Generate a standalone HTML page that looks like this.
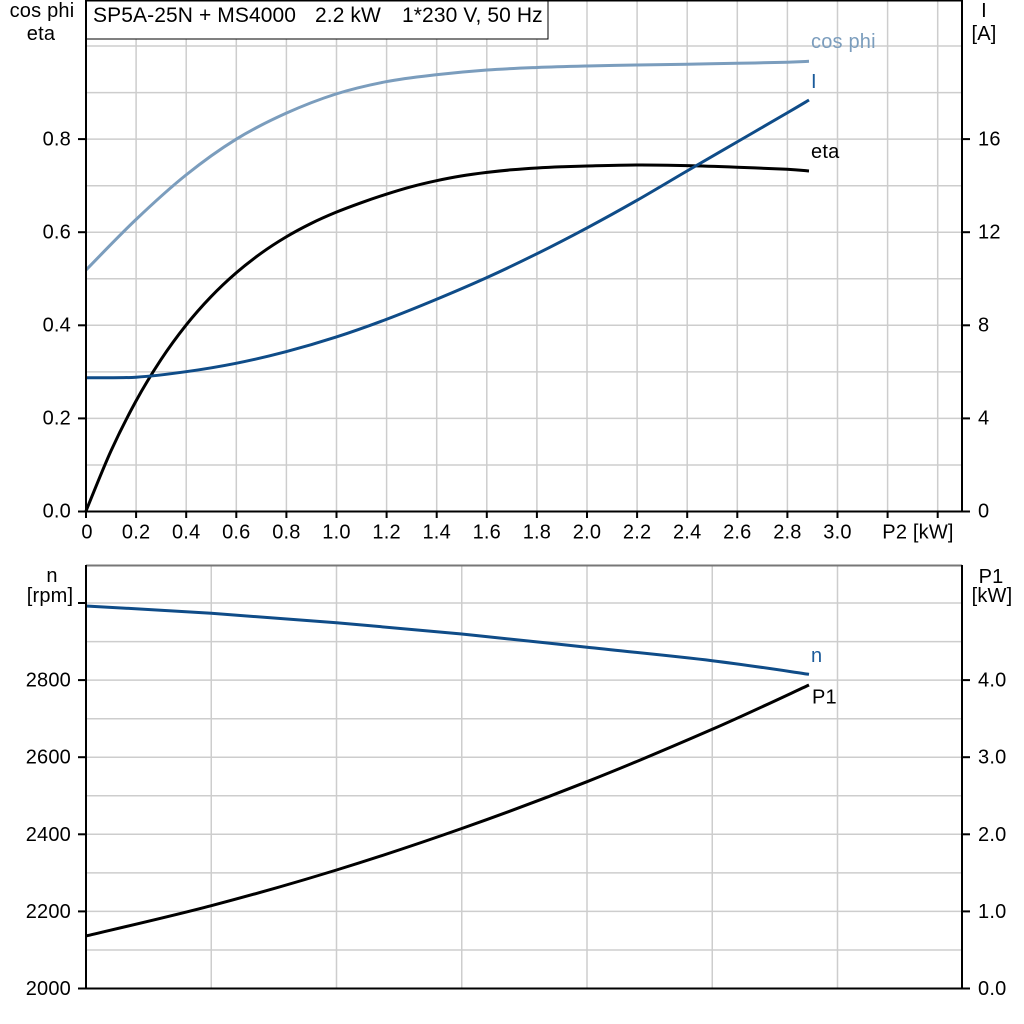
<!DOCTYPE html>
<html>
<head>
<meta charset="utf-8">
<style>
  html,body{margin:0;padding:0;background:#fff;}
  svg{display:block;}
  text{font-family:"Liberation Sans", Arial, sans-serif;font-size:20px;letter-spacing:0.2px;fill:#000;}
</style>
</head>
<body>
<svg id="chart" width="1024" height="1024" viewBox="0 0 1024 1024" xmlns="http://www.w3.org/2000/svg" font-family="Liberation Sans, Arial, sans-serif" font-size="20">
  <rect x="0" y="0" width="1024" height="1024" fill="#fff"/>

  <!-- ========== TOP CHART ========== -->
  <g stroke="#cdcdcd" stroke-width="1.5" fill="none">
    <line x1="136.1" y1="0" x2="136.1" y2="511"/>
    <line x1="186.2" y1="0" x2="186.2" y2="511"/>
    <line x1="236.3" y1="0" x2="236.3" y2="511"/>
    <line x1="286.4" y1="0" x2="286.4" y2="511"/>
    <line x1="336.5" y1="0" x2="336.5" y2="511"/>
    <line x1="386.6" y1="0" x2="386.6" y2="511"/>
    <line x1="436.7" y1="0" x2="436.7" y2="511"/>
    <line x1="486.8" y1="0" x2="486.8" y2="511"/>
    <line x1="536.9" y1="0" x2="536.9" y2="511"/>
    <line x1="587" y1="0" x2="587" y2="511"/>
    <line x1="637.1" y1="0" x2="637.1" y2="511"/>
    <line x1="687.2" y1="0" x2="687.2" y2="511"/>
    <line x1="737.3" y1="0" x2="737.3" y2="511"/>
    <line x1="787.4" y1="0" x2="787.4" y2="511"/>
    <line x1="837.5" y1="0" x2="837.5" y2="511"/>
    <line x1="887.6" y1="0" x2="887.6" y2="511"/>
    <line x1="937.7" y1="0" x2="937.7" y2="511"/>
    <line x1="86" y1="465" x2="962" y2="465"/>
    <line x1="86" y1="418.4" x2="962" y2="418.4"/>
    <line x1="86" y1="371.9" x2="962" y2="371.9"/>
    <line x1="86" y1="325.3" x2="962" y2="325.3"/>
    <line x1="86" y1="278.8" x2="962" y2="278.8"/>
    <line x1="86" y1="232.2" x2="962" y2="232.2"/>
    <line x1="86" y1="185.7" x2="962" y2="185.7"/>
    <line x1="86" y1="139.1" x2="962" y2="139.1"/>
    <line x1="86" y1="92.6" x2="962" y2="92.6"/>
    <line x1="86" y1="46" x2="962" y2="46"/>
  </g>

  <g fill="none" stroke-width="3" stroke-linejoin="round" stroke-linecap="butt">
    <polyline class="smooth" stroke="#7b9dbd" points="86,270 136,219.5 186,175 236,139.3 286,113.3 336,94 386,81.7 436,74.8 487,70 537,67.5 587,66 637,65 687,64.2 737,63.3 787,62.2 809,61.3"/>
    <polyline class="smooth" stroke="#000" points="86,511 111,450.9 136,401 161,359.6 186,325.2 211,296.7 236,273 261,253.3 286,237 311,223.5 336,212.3 361,202.8 386,194.3 411,186.8 436,180.8 461,176 487,172.4 512,169.8 537,168 562,166.8 587,166 637,165 687,165.6 737,167.2 787,169.3 809,171"/>
    <polyline class="smooth" stroke="#0f4c88" points="86,377.7 136,377.2 186,371.7 236,363.3 286,351.7 336,337.1 386,319.5 436,299.5 487,277.5 537,253.7 587,227.9 637,200.3 687,171 737,142 787,113 809,100"/>
  </g>

  <rect x="86.5" y="0.5" width="461.5" height="38.5" fill="#fff" stroke="#000" stroke-width="1"/>
  <text x="93" y="22" style="font-size:21px;letter-spacing:0.1px">SP5A-25N + MS4000</text>
  <text x="315" y="22" style="font-size:21px;letter-spacing:0.1px">2.2 kW</text>
  <text x="402" y="22" style="font-size:21px;letter-spacing:0.1px">1*230 V, 50 Hz</text>

  <g stroke="#000" fill="none">
    <line x1="86" y1="0.8" x2="962" y2="0.8" stroke-width="1.5"/>
    <line x1="86" y1="0" x2="86" y2="512" stroke-width="2"/>
    <line x1="962" y1="0" x2="962" y2="512" stroke-width="2"/>
    <line x1="78" y1="511.5" x2="970" y2="511.5" stroke-width="2"/>
    <line x1="78" y1="418.4" x2="86" y2="418.4" stroke-width="2"/>
    <line x1="78" y1="325.3" x2="86" y2="325.3" stroke-width="2"/>
    <line x1="78" y1="232.2" x2="86" y2="232.2" stroke-width="2"/>
    <line x1="78" y1="139.1" x2="86" y2="139.1" stroke-width="2"/>
    <line x1="962" y1="418.4" x2="970" y2="418.4" stroke-width="2"/>
    <line x1="962" y1="325.3" x2="970" y2="325.3" stroke-width="2"/>
    <line x1="962" y1="232.2" x2="970" y2="232.2" stroke-width="2"/>
    <line x1="962" y1="139.1" x2="970" y2="139.1" stroke-width="2"/>
    <line x1="86" y1="511" x2="86" y2="518" stroke-width="2"/>
    <line x1="136.1" y1="511" x2="136.1" y2="518" stroke-width="2"/>
    <line x1="186.2" y1="511" x2="186.2" y2="518" stroke-width="2"/>
    <line x1="236.3" y1="511" x2="236.3" y2="518" stroke-width="2"/>
    <line x1="286.4" y1="511" x2="286.4" y2="518" stroke-width="2"/>
    <line x1="336.5" y1="511" x2="336.5" y2="518" stroke-width="2"/>
    <line x1="386.6" y1="511" x2="386.6" y2="518" stroke-width="2"/>
    <line x1="436.7" y1="511" x2="436.7" y2="518" stroke-width="2"/>
    <line x1="486.8" y1="511" x2="486.8" y2="518" stroke-width="2"/>
    <line x1="536.9" y1="511" x2="536.9" y2="518" stroke-width="2"/>
    <line x1="587" y1="511" x2="587" y2="518" stroke-width="2"/>
    <line x1="637.1" y1="511" x2="637.1" y2="518" stroke-width="2"/>
    <line x1="687.2" y1="511" x2="687.2" y2="518" stroke-width="2"/>
    <line x1="737.3" y1="511" x2="737.3" y2="518" stroke-width="2"/>
    <line x1="787.4" y1="511" x2="787.4" y2="518" stroke-width="2"/>
    <line x1="837.5" y1="511" x2="837.5" y2="518" stroke-width="2"/>
    <line x1="887.6" y1="511" x2="887.6" y2="518" stroke-width="2"/>
    <line x1="937.7" y1="511" x2="937.7" y2="518" stroke-width="2"/>
  </g>

  <text x="42" y="17" text-anchor="middle">cos phi</text>
  <text x="41" y="40" text-anchor="middle">eta</text>
  <text x="984" y="17" text-anchor="middle">I</text>
  <text x="984" y="40" text-anchor="middle">[A]</text>

  <g text-anchor="end">
    <text x="71" y="517.5">0.0</text>
    <text x="71" y="424.5">0.2</text>
    <text x="71" y="331.5">0.4</text>
    <text x="71" y="238.5">0.6</text>
    <text x="71" y="145.5">0.8</text>
  </g>
  <g>
    <text x="978" y="517.5">0</text>
    <text x="978" y="424.5">4</text>
    <text x="978" y="331.5">8</text>
    <text x="978" y="238.5">12</text>
    <text x="978" y="145.5">16</text>
  </g>
  <g text-anchor="middle">
    <text x="87" y="538.5">0</text>
    <text x="136.1" y="538.5">0.2</text>
    <text x="186.2" y="538.5">0.4</text>
    <text x="236.3" y="538.5">0.6</text>
    <text x="286.4" y="538.5">0.8</text>
    <text x="336.5" y="538.5">1.0</text>
    <text x="386.6" y="538.5">1.2</text>
    <text x="436.7" y="538.5">1.4</text>
    <text x="486.8" y="538.5">1.6</text>
    <text x="536.9" y="538.5">1.8</text>
    <text x="587" y="538.5">2.0</text>
    <text x="637.1" y="538.5">2.2</text>
    <text x="687.2" y="538.5">2.4</text>
    <text x="737.3" y="538.5">2.6</text>
    <text x="787.4" y="538.5">2.8</text>
    <text x="837.5" y="538.5">3.0</text>
    <text x="918" y="538.5">P2 [kW]</text>
  </g>

  <text x="811" y="48" style="fill:#7b9dbd">cos phi</text>
  <text x="811" y="88" style="fill:#1a5a9a">I</text>
  <text x="811" y="158">eta</text>

  <!-- ========== BOTTOM CHART ========== -->
  <g stroke="#cdcdcd" stroke-width="1.5" fill="none">
    <line x1="211.25" y1="565" x2="211.25" y2="988"/>
    <line x1="336.5" y1="565" x2="336.5" y2="988"/>
    <line x1="461.75" y1="565" x2="461.75" y2="988"/>
    <line x1="587" y1="565" x2="587" y2="988"/>
    <line x1="712.25" y1="565" x2="712.25" y2="988"/>
    <line x1="837.5" y1="565" x2="837.5" y2="988"/>
    <line x1="86" y1="950" x2="962" y2="950"/>
    <line x1="86" y1="911.4" x2="962" y2="911.4"/>
    <line x1="86" y1="872.9" x2="962" y2="872.9"/>
    <line x1="86" y1="834.3" x2="962" y2="834.3"/>
    <line x1="86" y1="795.8" x2="962" y2="795.8"/>
    <line x1="86" y1="757.2" x2="962" y2="757.2"/>
    <line x1="86" y1="718.7" x2="962" y2="718.7"/>
    <line x1="86" y1="680.1" x2="962" y2="680.1"/>
    <line x1="86" y1="641.6" x2="962" y2="641.6"/>
    <line x1="86" y1="603" x2="962" y2="603"/>
  </g>

  <g fill="none" stroke-width="3" stroke-linejoin="round">
    <polyline class="smooth" stroke="#0f4c88" points="86,606 211.25,613.3 336.5,622.7 461.75,634 587,647.3 712.25,660.7 809,674.3"/>
    <polyline class="smooth" stroke="#000" points="86,936 211.25,905.7 336.5,870 461.75,828.5 587,781.7 712.25,729.3 809,685"/>
  </g>

  <g stroke="#000" fill="none">
    <line x1="86" y1="565.5" x2="962" y2="565.5" stroke="#777" stroke-width="2"/>
    <line x1="86" y1="565" x2="86" y2="989.5" stroke-width="2"/>
    <line x1="962" y1="565" x2="962" y2="989.5" stroke-width="2"/>
    <line x1="86" y1="988.5" x2="962" y2="988.5" stroke-width="2"/>
    <line x1="78" y1="988.5" x2="86" y2="988.5" stroke-width="2"/>
    <line x1="78" y1="911.4" x2="86" y2="911.4" stroke-width="2"/>
    <line x1="78" y1="834.3" x2="86" y2="834.3" stroke-width="2"/>
    <line x1="78" y1="757.2" x2="86" y2="757.2" stroke-width="2"/>
    <line x1="78" y1="680.1" x2="86" y2="680.1" stroke-width="2"/>
    <line x1="78" y1="603" x2="86" y2="603" stroke-width="2"/>
    <line x1="962" y1="988.5" x2="970" y2="988.5" stroke-width="2"/>
    <line x1="962" y1="911.4" x2="970" y2="911.4" stroke-width="2"/>
    <line x1="962" y1="834.3" x2="970" y2="834.3" stroke-width="2"/>
    <line x1="962" y1="757.2" x2="970" y2="757.2" stroke-width="2"/>
    <line x1="962" y1="680.1" x2="970" y2="680.1" stroke-width="2"/>
  </g>

  <text x="52" y="582" text-anchor="middle">n</text>
  <text x="50" y="602" text-anchor="middle">[rpm]</text>
  <text x="991" y="583" text-anchor="middle">P1</text>
  <text x="992" y="602" text-anchor="middle">[kW]</text>

  <g text-anchor="end">
    <text x="71" y="995">2000</text>
    <text x="71" y="918">2200</text>
    <text x="71" y="841">2400</text>
    <text x="71" y="763.5">2600</text>
    <text x="71" y="686.5">2800</text>
  </g>
  <g>
    <text x="978" y="995">0.0</text>
    <text x="978" y="918">1.0</text>
    <text x="978" y="841">2.0</text>
    <text x="978" y="763.5">3.0</text>
    <text x="978" y="686.5">4.0</text>
  </g>

  <text x="811" y="662" style="fill:#1a5a9a">n</text>
  <text x="812" y="703.5">P1</text>
</svg>
<script>
(function(){
  var NS="http://www.w3.org/2000/svg";
  var pls=document.querySelectorAll("polyline.smooth");
  for(var k=0;k<pls.length;k++){
    var pl=pls[k];
    var raw=pl.getAttribute("points").trim().split(/\s+/);
    var p=[];
    for(var i=0;i<raw.length;i++){var a=raw[i].split(",");p.push([parseFloat(a[0]),parseFloat(a[1])]);}
    if(p.length<3) continue;
    var d="M"+p[0][0]+","+p[0][1];
    for(var i=0;i<p.length-1;i++){
      var p0=p[i>0?i-1:i],p1=p[i],p2=p[i+1],p3=p[i+2<p.length?i+2:i+1];
      var c1x=p1[0]+(p2[0]-p0[0])/6,c1y=p1[1]+(p2[1]-p0[1])/6;
      var c2x=p2[0]-(p3[0]-p1[0])/6,c2y=p2[1]-(p3[1]-p1[1])/6;
      d+=" C"+c1x.toFixed(2)+","+c1y.toFixed(2)+" "+c2x.toFixed(2)+","+c2y.toFixed(2)+" "+p2[0]+","+p2[1];
    }
    var path=document.createElementNS(NS,"path");
    path.setAttribute("d",d);
    path.setAttribute("stroke",pl.getAttribute("stroke"));
    path.setAttribute("fill","none");
    pl.parentNode.replaceChild(path,pl);
  }
})();
</script>
</body>
</html>
